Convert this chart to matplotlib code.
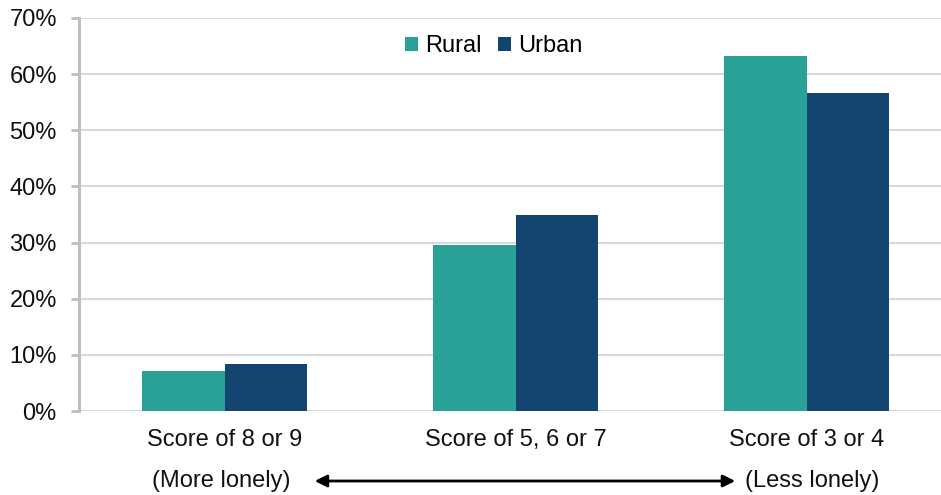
import numpy as np
import matplotlib.pyplot as plt
import matplotlib.transforms as mtransforms
from matplotlib.ticker import PercentFormatter

plt.rcParams['font.family'] = ['Liberation Sans', 'DejaVu Sans']

categories = ['Score of 8 or 9', 'Score of 5, 6 or 7', 'Score of 3 or 4']
ends = ['(More lonely)', '(Less lonely)']
rural = [7.2, 29.6, 63.3]
urban = [8.3, 35.0, 56.6]
yticks = [0, 10, 20, 30, 40, 50, 60, 70]

teal = '#29A197'
navy = '#144470'
grid = '#d9d9d9'
spine = '#bfbfbf'
txt = '#111111'

W, H = 941, 495
fig = plt.figure(figsize=(W / 100, H / 100), dpi=100)
ax = fig.add_axes([79 / W, 84 / H, 873 / W, 393 / H])

x = np.arange(len(categories))
w = 0.284
ax.bar(x - w / 2, rural, w, color=teal, label='Rural', zorder=3)
ax.bar(x + w / 2, urban, w, color=navy, label='Urban', zorder=3)

ax.set_xlim(-0.5, 2.5)
ax.set_ylim(0, 70)
ax.set_yticks(yticks)
ax.yaxis.set_major_formatter(PercentFormatter(decimals=0))
ax.set_xticks(x)
ax.set_xticklabels(categories)
ax.grid(axis='y', color=grid, linewidth=1.5, zorder=0)
ax.set_axisbelow(True)

for s in ['top', 'right', 'bottom']:
    ax.spines[s].set_visible(False)
ax.spines['left'].set_color(spine)
ax.spines['left'].set_linewidth(2.2)
ax.tick_params(axis='y', length=6, width=2, color=spine, pad=10, labelsize=17, labelcolor=txt)
ax.tick_params(axis='x', length=0, pad=13, labelsize=17, labelcolor=txt)

# second row: lonely labels with a double arrow between them
trans = mtransforms.blended_transform_factory(ax.transData, fig.transFigure)
ypos = 14 / H
ax.text(x[0] - 0.01, ypos, ends[0], transform=trans, fontsize=17, ha='center', va='center', color=txt)
ax.text(x[2] + 0.02, ypos, ends[1], transform=trans, fontsize=17, ha='center', va='center', color=txt)
ax.annotate('', xy=(1.755, ypos), xytext=(0.31, ypos), xycoords=trans, textcoords=trans,
            arrowprops=dict(arrowstyle='<|-|>', color='black', lw=2, mutation_scale=18, shrinkA=0, shrinkB=0),
            annotation_clip=False)

ax.legend(loc='center', bbox_to_anchor=((494 - 79) / 873, 1 - 28 / 393), ncol=2, frameon=False,
          fontsize=17, handlelength=0.55, handleheight=0.55, handletextpad=0.3, columnspacing=0.7)

fig.savefig('out.png', dpi=100)
